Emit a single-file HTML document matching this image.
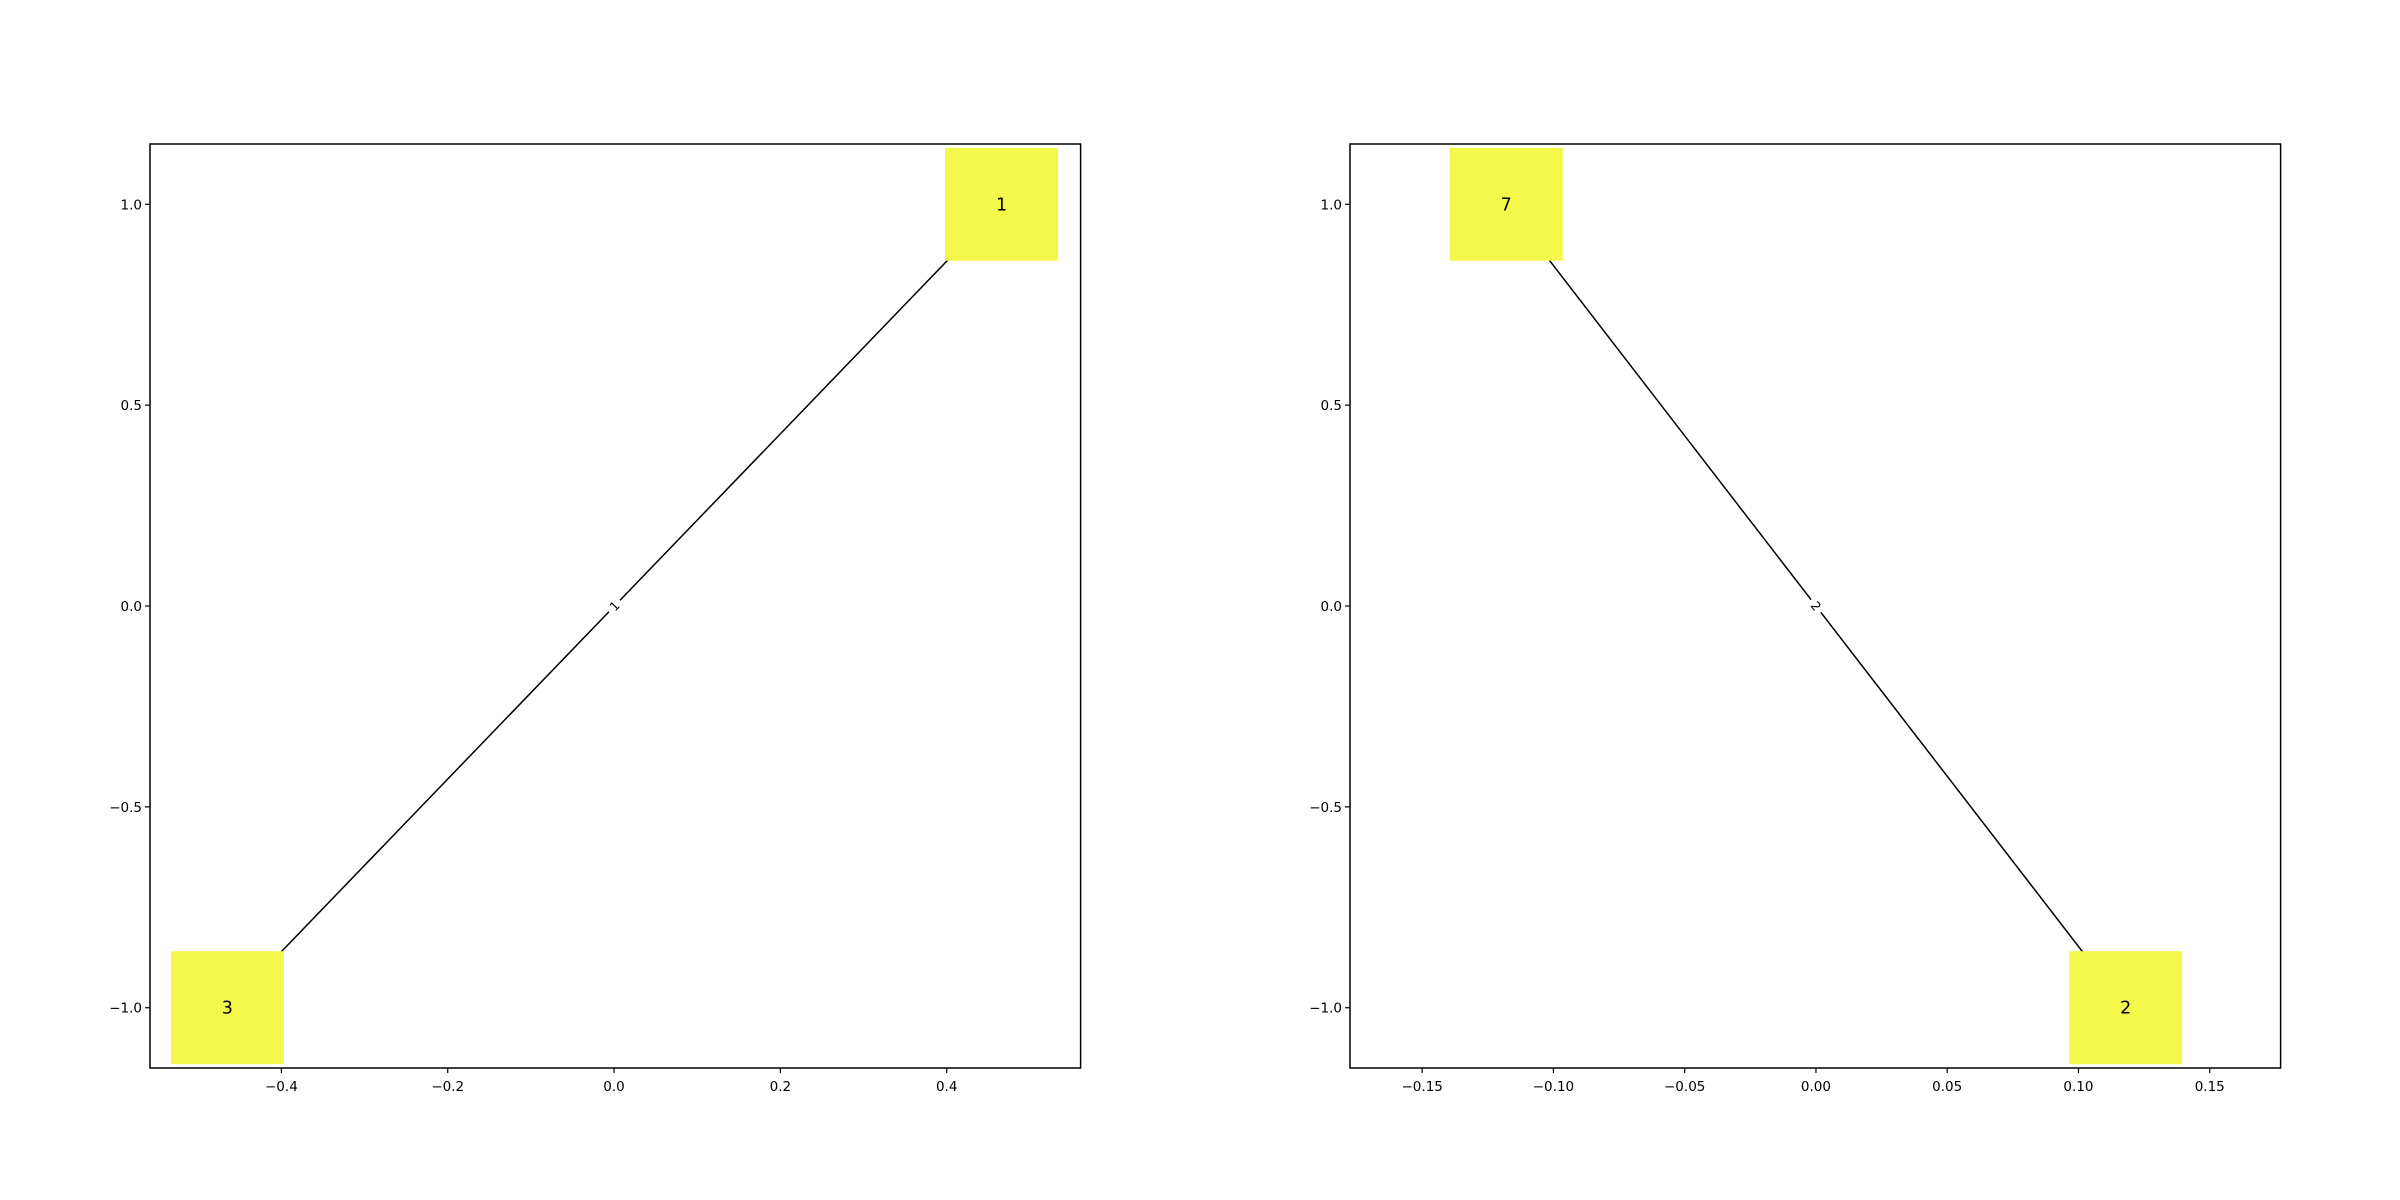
<!DOCTYPE html>
<html><head><meta charset="utf-8">
<style>html,body{margin:0;padding:0;background:#fff;}svg{display:block;font-family:"DejaVu Sans","Liberation Sans",sans-serif;}</style>
</head><body>
<svg id="fig" width="2400" height="1200" xmlns="http://www.w3.org/2000/svg"></svg>
<script>
const leftNodeLabels = ["1", "3"];
const leftNodeX = [0.466, -0.465];
const leftNodeY = [1, -1];
const leftEdgeLabel = "1";
const leftXTicks = [-0.4, -0.2, 0.0, 0.2, 0.4];
const leftXTickLabels = ["\u22120.4", "\u22120.2", "0.0", "0.2", "0.4"];
const rightNodeLabels = ["7", "2"];
const rightNodeX = [-0.118, 0.118];
const rightNodeY = [1, -1];
const rightEdgeLabel = "2";
const rightXTicks = [-0.15, -0.10, -0.05, 0.00, 0.05, 0.10, 0.15];
const rightXTickLabels = ["\u22120.15", "\u22120.10", "\u22120.05", "0.00", "0.05", "0.10", "0.15"];
const yTicks = [-1.0, -0.5, 0.0, 0.5, 1.0];
const yTickLabels = ["\u22121.0", "\u22120.5", "0.0", "0.5", "1.0"];

const NS = "http://www.w3.org/2000/svg";
const svg = document.getElementById('fig');
function mk(tag, attrs, parent) {
  const e = document.createElementNS(NS, tag);
  for (const k in attrs) e.setAttribute(k, attrs[k]);
  (parent || svg).appendChild(e);
  return e;
}
function panel(name, px0, px1, xmin, xmax, xt, xtl, nx, ny, nl, el) {
  const py0 = 144, py1 = 1068, ymin = -1.15, ymax = 1.15;
  const sx = v => px0 + (v - xmin) / (xmax - xmin) * (px1 - px0);
  const sy = v => py1 - (v - ymin) / (ymax - ymin) * (py1 - py0);
  const g = mk('g', {});
  
  
  const x1 = sx(nx[0]), y1 = sy(ny[0]), x2 = sx(nx[1]), y2 = sy(ny[1]);
  const line = mk('line', {x1, y1, x2, y2, stroke: '#000', 'stroke-width': 1.5}, g);
  
  
  const mx = (x1 + x2) / 2, my = (y1 + y2) / 2;
  const ang = Math.atan2(y2 - y1, x2 - x1) * 180 / Math.PI;
  const rot = (ang > 90 || ang < -90) ? ang + 180 : ang;
  const lg = mk('g', {transform: `translate(${mx},${my}) rotate(${rot})`}, g);
  
  
  mk('rect', {x: -8, y: -9, width: 16, height: 18, fill: '#fff'}, lg);
  const et = mk('text', {x: 0, y: 4.5, 'font-size': 12.5, 'text-anchor': 'middle', fill: '#000'}, lg);
  et.textContent = el;
  for (let i = 0; i < nx.length; i++) {
    const cx = sx(nx[i]), cy = sy(ny[i]);
    const r = mk('rect', {x: cx - 56.5, y: cy - 56.5, width: 113, height: 113, fill: '#f3f84a'}, g);
    
    
    const t = mk('text', {x: cx, y: cy + 6, 'font-size': 17.5, 'text-anchor': 'middle', fill: '#000'}, g);
    
    
    t.textContent = nl[i];
  }
  const fr = mk('rect', {x: px0, y: py0, width: px1 - px0, height: py1 - py0, fill: 'none', stroke: '#000', 'stroke-width': 1.5}, g);
  
  
  for (let i = 0; i < xt.length; i++) {
    const x = sx(xt[i]);
    mk('line', {x1: x, y1: py1, x2: x, y2: py1 + 5, stroke: '#000', 'stroke-width': 1.2}, g);
    const t = mk('text', {x, y: py1 + 23, 'font-size': 13.5, 'text-anchor': 'middle', fill: '#000'}, g);
    
    
    t.textContent = xtl[i];
  }
  for (let i = 0; i < yTicks.length; i++) {
    const y = sy(yTicks[i]);
    mk('line', {x1: px0 - 5, y1: y, x2: px0, y2: y, stroke: '#000', 'stroke-width': 1.2}, g);
    const t = mk('text', {x: px0 - 8, y: y + 5, 'font-size': 13.5, 'text-anchor': 'end', fill: '#000'}, g);
    
    
    t.textContent = yTickLabels[i];
  }
}
panel('left-graph-panel', 150, 1080.6, -0.558, 0.561, leftXTicks, leftXTickLabels, leftNodeX, leftNodeY, leftNodeLabels, leftEdgeLabel);
panel('right-graph-panel', 1350, 2280.6, -0.1775, 0.177, rightXTicks, rightXTickLabels, rightNodeX, rightNodeY, rightNodeLabels, rightEdgeLabel);
</script>
</body></html>
